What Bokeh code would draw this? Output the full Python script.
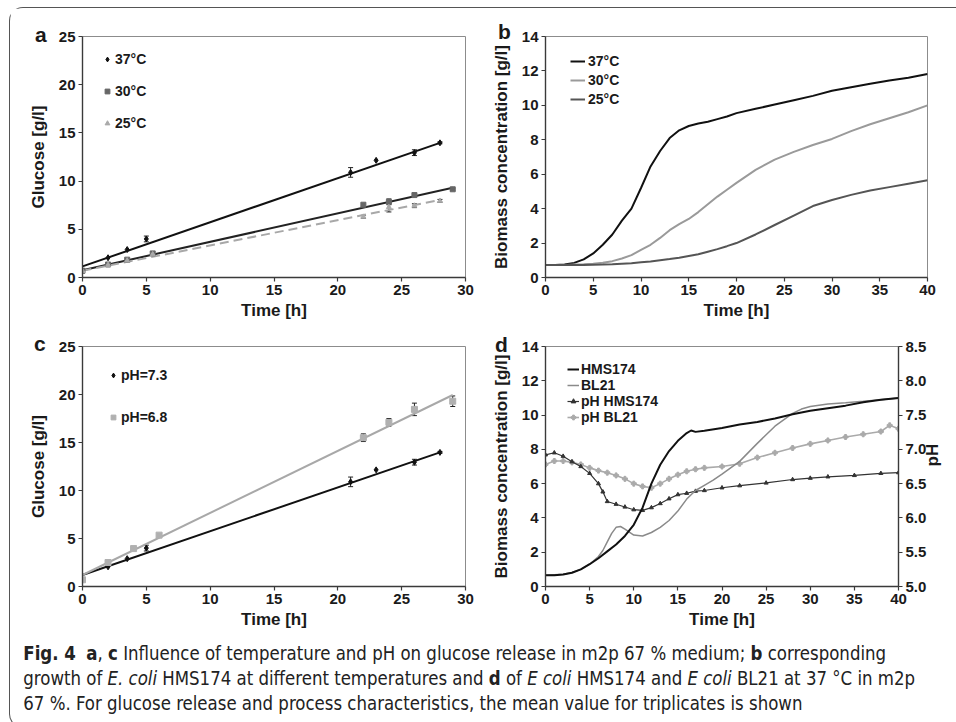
import math
from bokeh.plotting import figure
from bokeh.models import (Range1d, SingleIntervalTicker, NumeralTickFormatter, LinearAxis,
                          Legend, LegendItem, Whisker, TeeHead, ColumnDataSource, Title, Div)
from bokeh.layouts import column, row
from bokeh.embed import file_html
from bokeh.resources import INLINE

FONT = "Liberation Sans"
INK = "#1a1a1a"

# ---------------- panel a / c : glucose release ----------------
t37 = [0, 2, 3.5, 5, 21, 23, 26, 28]
g37 = [0.7, 2.05, 2.9, 4.0, 10.9, 12.15, 12.95, 13.97]
e37 = [0, 0, 0, 0.3, 0.5, 0, 0.3, 0.1]
fit37_t = [0, 28]
fit37_g = [1.15, 13.97]

t30 = [0, 2, 3.5, 5.5, 22, 24, 26, 29]
g30 = [0.7, 1.35, 1.85, 2.5, 7.55, 7.85, 8.55, 9.15]
e30 = [0, 0, 0, 0, 0, 0.3, 0, 0.1]
fit30_t = [0, 29]
fit30_g = [0.75, 9.3]

t25 = [0, 2, 3.5, 5.5, 22, 24, 26, 28]
g25 = [0.68, 1.3, 1.75, 2.4, 6.3, 7.3, 7.45, 7.95]
e25 = [0, 0, 0, 0, 0.15, 0.5, 0.2, 0.15]
fit25_t = [0, 28]
fit25_g = [0.7, 8.05]

t68 = [0, 2, 4, 6, 22, 24, 26, 29]
g68 = [0.7, 2.5, 3.95, 5.35, 15.5, 17.1, 18.45, 19.3]
e68 = [0, 0, 0, 0, 0.4, 0.4, 0.65, 0.55]
fit68_t = [0, 29]
fit68_g = [1.2, 19.95]
fit73_t = [0, 28]
fit73_g = [1.2, 13.97]

# ---------------- panel b : growth at temperatures ----------------
tb = [0, 1, 2, 3, 4, 5, 6, 7, 8, 9, 10, 11, 12, 13, 14, 15, 16, 17, 18, 19, 20,
      22, 24, 26, 28, 30, 32, 34, 36, 38, 40]
b37 = [0.72, 0.73, 0.76, 0.85, 1.05, 1.4, 1.9, 2.5, 3.3, 4.0, 5.2, 6.45, 7.35, 8.1, 8.55,
       8.8, 8.95, 9.05, 9.2, 9.35, 9.55, 9.8, 10.05, 10.3, 10.55, 10.85, 11.05, 11.25,
       11.45, 11.6, 11.82]
b30 = [0.72, 0.72, 0.73, 0.75, 0.77, 0.8, 0.86, 0.95, 1.1, 1.3, 1.6, 1.9, 2.3, 2.75, 3.1,
       3.4, 3.8, 4.25, 4.7, 5.1, 5.5, 6.25, 6.85, 7.3, 7.7, 8.05, 8.5, 8.9, 9.25, 9.6, 10.0]
b25 = [0.72, 0.72, 0.72, 0.72, 0.73, 0.74, 0.75, 0.77, 0.8, 0.83, 0.88, 0.93, 1.0, 1.07,
       1.15, 1.25, 1.35, 1.5, 1.65, 1.82, 2.0, 2.5, 3.05, 3.6, 4.15, 4.5, 4.8, 5.05, 5.25,
       5.45, 5.65]

# ---------------- panel d : strains, biomass and pH ----------------
t_hms = [0, 1, 2, 3, 4, 5, 6, 7, 8, 9, 10, 11, 12, 13, 14, 15, 16, 16.5, 17, 18, 20, 22,
         24, 26, 28, 30, 32, 34, 36, 38, 40]
x_hms = [0.65, 0.66, 0.7, 0.8, 1.0, 1.3, 1.65, 2.05, 2.45, 2.95, 3.6, 4.6, 6.0, 7.1, 7.9,
         8.5, 8.95, 9.1, 9.02, 9.08, 9.25, 9.45, 9.6, 9.8, 10.05, 10.25, 10.4, 10.55, 10.75,
         10.9, 11.0]
t_bl = [0, 2, 3, 4, 5, 6, 6.5, 7, 7.5, 8, 8.5, 9, 10, 11, 12, 13, 14, 15, 16, 17, 18, 19,
        20, 22, 24, 26, 28, 29, 30, 32, 34, 36, 38, 40]
x_bl = [0.65, 0.72, 0.82, 1.0, 1.3, 1.75, 2.1, 2.6, 3.1, 3.45, 3.5, 3.35, 3.0, 2.95, 3.15,
        3.45, 3.85, 4.4, 5.1, 5.6, 5.9, 6.2, 6.55, 7.3, 8.35, 9.35, 10.1, 10.35, 10.5, 10.65,
        10.72, 10.8, 10.9, 11.0]
t_phh = [0, 1, 2, 3, 4, 5, 6, 6.5, 7, 8, 9, 10, 11, 12, 13, 14, 15, 16, 17, 18, 20, 22, 25,
         28, 30, 32, 35, 38, 40]
ph_hms = [6.92, 6.95, 6.9, 6.82, 6.75, 6.65, 6.5, 6.38, 6.24, 6.2, 6.16, 6.12, 6.11, 6.15,
          6.21, 6.28, 6.34, 6.36, 6.39, 6.4, 6.44, 6.47, 6.51, 6.56, 6.58, 6.6, 6.62, 6.65,
          6.66]
t_phb = [0, 1, 2, 3, 4, 5, 6, 7, 8, 9, 10, 11, 12, 13, 14, 15, 16, 17, 18, 20, 22, 24, 26,
         28, 30, 32, 34, 36, 38, 39, 40]
ph_bl = [6.78, 6.83, 6.83, 6.81, 6.78, 6.73, 6.69, 6.66, 6.62, 6.57, 6.5, 6.46, 6.44, 6.5,
         6.57, 6.63, 6.68, 6.71, 6.73, 6.75, 6.79, 6.88, 6.95, 7.02, 7.08, 7.13, 7.18, 7.22,
         7.26, 7.35, 7.3]

# ---------------- helpers ----------------
def style_axis(ax):
    ax.axis_line_color = "#3a3a3a"
    ax.axis_line_width = 1.4
    ax.major_tick_line_color = "#3a3a3a"
    ax.major_tick_line_width = 1.2
    ax.major_tick_in = 0
    ax.major_tick_out = 4
    ax.minor_tick_line_color = None
    ax.major_label_text_font = FONT
    ax.major_label_text_font_size = "15px"
    ax.major_label_text_font_style = "bold"
    ax.major_label_text_color = INK
    ax.major_label_standoff = 3
    ax.axis_label_text_font = FONT
    ax.axis_label_text_font_size = "17px"
    ax.axis_label_text_font_style = "bold"
    ax.axis_label_text_color = INK


def make_fig(w, h, xr, yr, xint, yint, bl, br, bt, bb, ylabel):
    p = figure(width=w, height=h, x_range=Range1d(*xr), y_range=Range1d(*yr), title=None,
               output_backend="svg", toolbar_location=None,
               min_border_left=bl, min_border_right=br, min_border_top=bt,
               min_border_bottom=bb)
    p.grid.visible = False
    p.outline_line_color = "#8c8c8c"
    p.outline_line_width = 1
    p.xaxis.ticker = SingleIntervalTicker(interval=xint, num_minor_ticks=0)
    p.yaxis.ticker = SingleIntervalTicker(interval=yint, num_minor_ticks=0)
    for ax in list(p.xaxis) + list(p.yaxis):
        style_axis(ax)
    p.xaxis.axis_label = "Time [h]"
    p.yaxis.axis_label = ylabel
    p.xaxis.axis_label_standoff = 3
    p.yaxis.axis_label_standoff = 8
    return p


def add_err(p, xs, ys, es, color="#222222"):
    bx = [x for x, e in zip(xs, es) if e > 0]
    up = [y + e for y, e in zip(ys, es) if e > 0]
    lo = [y - e for y, e in zip(ys, es) if e > 0]
    src = ColumnDataSource(dict(base=bx, upper=up, lower=lo))
    p.add_layout(Whisker(base="base", upper="upper", lower="lower", source=src,
                         line_color=color, line_width=1,
                         upper_head=TeeHead(size=5, line_color=color, line_width=1),
                         lower_head=TeeHead(size=5, line_color=color, line_width=1)))


def add_legend(p, items, loc, gw, gh, spacing, standoff):
    lg = Legend(items=items, location=loc, glyph_width=gw, glyph_height=gh,
                label_height=gh, label_width=0, spacing=spacing, padding=0, margin=0,
                label_standoff=standoff, border_line_color=None, background_fill_alpha=0,
                label_text_font=FONT, label_text_font_size="14px",
                label_text_font_style="bold", label_text_color=INK)
    p.add_layout(lg)


def letter(p, text, dx_px, standoff):
    p.add_layout(Title(text=text, align="left", offset=dx_px, standoff=standoff,
                       vertical_align="bottom", text_font=FONT, text_font_size="21px",
                       text_font_style="bold", text_color=INK), "above")


# ---------------- panel a ----------------
pa = make_fig(469, 319, (0, 30), (0, 25), 5, 5, 72, 14, 28, 48, "Glucose [g/l]")
pa.line(fit37_t, fit37_g, line_color="#111111", line_width=2)
pa.line(fit30_t, fit30_g, line_color="#222222", line_width=2)
pa.line(fit25_t, fit25_g, line_color="#a8a8a8", line_width=2, line_dash="9 5")
add_err(pa, t37, g37, e37)
add_err(pa, t30, g30, e30)
add_err(pa, t25, g25, e25)
ra37 = pa.scatter(t37, g37, marker="diamond", size=6, color="#111111")
ra30 = pa.scatter(t30, g30, marker="square", size=5, color="#666666")
ra25 = pa.scatter(t25, g25, marker="triangle", size=5, color="#aaaaaa")
add_legend(pa, [LegendItem(label="37°C", renderers=[ra37]),
                LegendItem(label="30°C", renderers=[ra30]),
                LegendItem(label="25°C", renderers=[ra25])],
           (19, 144), 12, 20, 12, 2)
letter(pa, "a", -47.5, -18)

# ---------------- panel b ----------------
pb = make_fig(475, 319, (0, 40), (0, 14), 5, 2, 66, 27, 26, 50,
              "Biomass concentration [g/l]")
rb37 = pb.line(tb, b37, line_color="#111111", line_width=2)
rb30 = pb.line(tb, b30, line_color="#9a9a9a", line_width=2)
rb25 = pb.line(tb, b25, line_color="#555555", line_width=2)
add_legend(pb, [LegendItem(label="37°C", renderers=[rb37]),
                LegendItem(label="30°C", renderers=[rb30]),
                LegendItem(label="25°C", renderers=[rb25])],
           (25, 169.5), 15, 18, 1, 3)
letter(pb, "b", -47.5, -13)

# ---------------- panel c ----------------
pc = make_fig(469, 308, (0, 30), (0, 25), 5, 5, 72, 14, 18, 48, "Glucose [g/l]")
pc.line(fit73_t, fit73_g, line_color="#111111", line_width=2)
pc.line(fit68_t, fit68_g, line_color="#a8a8a8", line_width=2)
add_err(pc, t37, g37, e37)
add_err(pc, t68, g68, e68)
rc73 = pc.scatter(t37, g37, marker="diamond", size=6, color="#111111")
rc68 = pc.scatter(t68, g68, marker="square", size=6, color="#b0b0b0")
add_legend(pc, [LegendItem(label="pH=7.3", renderers=[rc73]),
                LegendItem(label="pH=6.8", renderers=[rc68])],
           (25, 159), 12, 20, 22, 2)
letter(pc, "c", -48.5, -16)

# ---------------- panel d ----------------
pd_ = make_fig(475, 308, (0, 40), (0, 14), 5, 2, 66, 56, 19, 49,
               "Biomass concentration [g/l]")
pd_.extra_y_ranges = {"ph": Range1d(5.0, 8.5)}
ax_ph = LinearAxis(y_range_name="ph",
                   ticker=SingleIntervalTicker(interval=0.5, num_minor_ticks=0),
                   formatter=NumeralTickFormatter(format="0.0"))
style_axis(ax_ph)
ax_ph.axis_label = "pH"
ax_ph.axis_label_standoff = 3
try:
    ax_ph.axis_label_orientation = math.pi / 2
except Exception:
    pass
pd_.add_layout(ax_ph, "right")
rph_b_l = pd_.line(t_phb, ph_bl, y_range_name="ph", line_color="#aaaaaa", line_width=1.6)
rph_b_m = pd_.scatter(t_phb, ph_bl, y_range_name="ph", marker="plus", size=5,
                      color="#aaaaaa")
rph_h_l = pd_.line(t_phh, ph_hms, y_range_name="ph", line_color="#333333", line_width=1.2)
rph_h_m = pd_.scatter(t_phh, ph_hms, y_range_name="ph", marker="triangle", size=4,
                      color="#333333")
rd_bl = pd_.line(t_bl, x_bl, line_color="#8a8a8a", line_width=1.5)
rd_hms = pd_.line(t_hms, x_hms, line_color="#111111", line_width=2)
add_legend(pd_, [LegendItem(label="HMS174", renderers=[rd_hms]),
                 LegendItem(label="BL21", renderers=[rd_bl]),
                 LegendItem(label="pH HMS174", renderers=[rph_h_l, rph_h_m]),
                 LegendItem(label="pH BL21", renderers=[rph_b_l, rph_b_m])],
           (22, 161), 12, 16, 0, 2)
letter(pd_, "d", -50.5, -18)

# ---------------- caption ----------------
cap_html = (
    '<div style="padding:1px 0 0 9px; font-family:\'Liberation Sans Narrow\', '
    '\'DejaVu Sans Condensed\', sans-serif; font-size:20px; line-height:25px; '
    'color:#222; white-space:nowrap; transform:scaleX(0.922); transform-origin:0 0;">'
    '<b>Fig. 4</b>&nbsp;&nbsp;<b>a</b>, <b>c</b> Influence of temperature and pH on glucose '
    'release in m2p 67 % medium; <b>b</b> corresponding<br>'
    'growth of <i>E. coli</i> HMS174 at different temperatures and <b>d</b> of '
    '<i>E coli</i> HMS174 and <i>E coli</i> BL21 at 37 °C in m2p<br>'
    '67 %. For glucose release and process characteristics, the mean value for '
    'triplicates is shown</div>'
)
cap = Div(text=cap_html, width=944, height=82)

layout = column(row(pa, pb), row(pc, pd_), cap, margin=(7, 0, 0, 9),
                styles={"border-left": "1.5px solid #555", "border-top": "1.5px solid #555",
                        "border-bottom": "1.5px solid #555",
                        "border-top-left-radius": "14px",
                        "border-bottom-left-radius": "14px"})

open("out.html", "w").write(file_html(layout, INLINE))
